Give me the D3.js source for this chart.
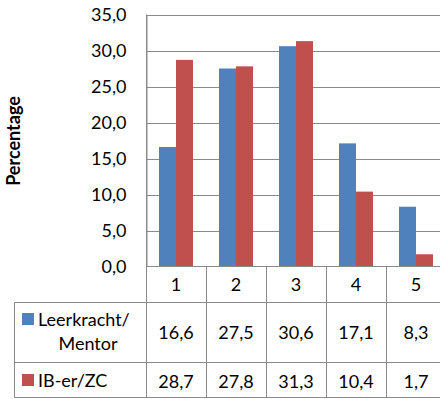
<!DOCTYPE html>
<html><head><meta charset="utf-8">
<script src="https://cdn.jsdelivr.net/npm/d3@7"></script>
<style>html,body{margin:0;padding:0;background:#fff;overflow:hidden}</style>
</head><body>
<svg id="c" width="440" height="399"></svg>
<script>
const categories = ["1","2","3","4","5"];
const seriesNames = ["Leerkracht/Mentor","IB-er/ZC"];
const seriesLabels = [["Leerkracht/","Mentor"],["IB-er/ZC"]];
const leerkracht = [16.6,27.5,30.6,17.1,8.3];
const iber = [28.7,27.8,31.3,10.4,1.7];
const yTicks = [0,5,10,15,20,25,30,35];
const colors = ["#4F81BD","#C0504D"];
const seriesValues = [leerkracht, iber];

(function(){
const svg = d3.select("#c");
const font = "Lato, 'Open Sans', sans-serif";
const lineCol = "#8a8a8a";

const pLeft = 146, pRight = 446, pTop = 14.5, pBottom = 266.5;
const x0 = d3.scaleBand().domain(categories).range([pLeft, pRight]).paddingInner(0).paddingOuter(0);
const x1 = d3.scaleBand().domain(seriesNames).range([0, x0.bandwidth()]).paddingInner(0).paddingOuter(0.765);
const y = d3.scaleLinear().domain([0,35]).range([pBottom, pTop]);
const fmt = v => d3.format(".1f")(v).replace(".", ",");

// gridlines
svg.append("g").selectAll("line").data(yTicks.filter(d=>d>0)).join("line")
  .attr("x1", pLeft).attr("x2", pRight)
  .attr("y1", d=>Math.round(y(d))+0.5).attr("y2", d=>Math.round(y(d))+0.5)
  .attr("stroke", lineCol).attr("stroke-width", 1);

// y axis
const yAxis = d3.axisLeft(y).tickValues(yTicks).tickFormat(fmt).tickSize(0).tickPadding(20);
const ga = svg.append("g").attr("transform", `translate(${pLeft+0.5},0)`).call(yAxis);
ga.select(".domain").attr("stroke", lineCol);
ga.selectAll("text").attr("font-family", font).attr("font-size", 18).attr("fill", "#000");

// bars
seriesNames.forEach((s, si) => {
  svg.append("g").selectAll("rect").data(categories).join("rect")
    .attr("x", c => x0(c) + x1(s))
    .attr("width", x1.bandwidth())
    .attr("y", (c, i) => y(seriesValues[si][i]))
    .attr("height", (c, i) => y(0) - y(seriesValues[si][i]))
    .attr("fill", colors[si]);
});

// Y title
svg.append("text").attr("transform", "translate(20,141) rotate(-90)")
  .attr("text-anchor", "middle").attr("font-family", font).attr("font-weight", "bold")
  .attr("font-size", 18).attr("fill", "#000").text("Percentage");

// data table
const rowY = [266.5, 302.5, 362.5, 398.5];
const tableLeft = 14.5;
const g = svg.append("g");
g.append("line").attr("x1", pLeft).attr("x2", pRight).attr("y1", rowY[0]).attr("y2", rowY[0]).attr("stroke", lineCol);
[rowY[1], rowY[2], rowY[3]-1].forEach(yy => g.append("line").attr("x1", tableLeft).attr("x2", pRight)
  .attr("y1", yy).attr("y2", yy).attr("stroke", lineCol));
g.append("line").attr("x1", tableLeft).attr("x2", tableLeft).attr("y1", rowY[1]).attr("y2", rowY[3]-1).attr("stroke", lineCol);
categories.forEach(c => {
  const xx = Math.round(x0(c)) + 0.5;
  g.append("line").attr("x1", xx).attr("x2", xx).attr("y1", c === categories[0] ? pTop : rowY[0]).attr("y2", rowY[3]-1).attr("stroke", lineCol);
});
g.selectAll("text.cat").data(categories).join("text").attr("class","cat")
  .attr("x", c => x0(c) + x0.bandwidth()/2).attr("y", 285).attr("dy", "0.35em")
  .attr("text-anchor", "middle").attr("font-family", font).attr("font-size", 18).text(c => c);
const rowCenters = [333, 381.5];
seriesNames.forEach((s, si) => {
  g.selectAll("text.v"+si).data(categories).join("text").attr("class","v"+si)
    .attr("x", c => x0(c) + x0.bandwidth()/2).attr("y", rowCenters[si]).attr("dy", "0.35em")
    .attr("text-anchor", "middle").attr("font-family", font).attr("font-size", 18)
    .text((c, i) => fmt(seriesValues[si][i]));
});
const keyY = [313, 374];
seriesNames.forEach((s, si) => {
  g.append("rect").attr("x", 22).attr("y", keyY[si]).attr("width", 12).attr("height", 12).attr("fill", colors[si]);
});
g.append("text").attr("x", 38).attr("y", 320).attr("dy","0.35em").attr("font-family", font).attr("font-size", 18).text(seriesLabels[0][0]);
g.append("text").attr("x", 88).attr("y", 344).attr("dy","0.35em").attr("text-anchor","middle").attr("font-family", font).attr("font-size", 18).text(seriesLabels[0][1]);
g.append("text").attr("x", 38).attr("y", 381).attr("dy","0.35em").attr("font-family", font).attr("font-size", 18).text(seriesLabels[1][0]);
})();
</script>
</body></html>
